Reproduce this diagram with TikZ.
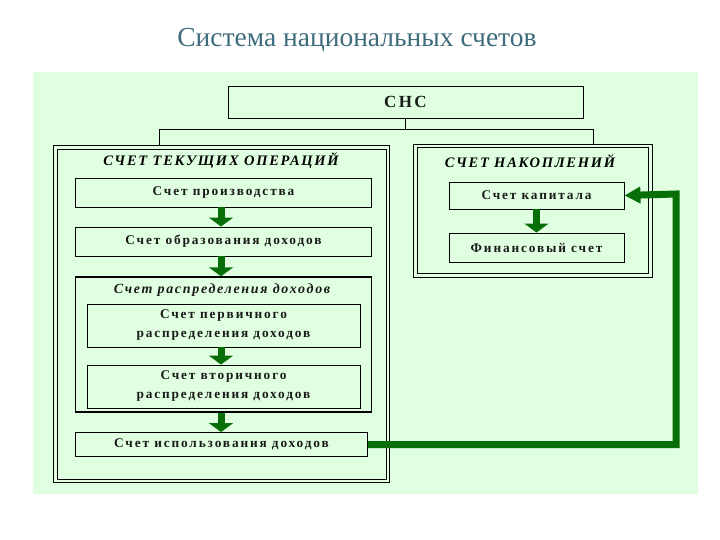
\documentclass[tikz,border=0pt]{standalone}
\usepackage{fontspec}
\setmainfont{Liberation Serif}
\newfontfamily\bxfont[LetterSpace=14]{Liberation Serif}
\newfontfamily\ttlfont[LetterSpace=12]{Liberation Serif}
\usetikzlibrary{arrows.meta}
\definecolor{bgc}{RGB}{224,255,224}
\definecolor{arr}{RGB}{8,110,8}
\definecolor{ttl}{RGB}{62,108,124}
\tikzset{
  acct/.style={draw=black, line width=0.9pt, inner sep=0pt, align=center,
    font=\bxfont\fontsize{13.3}{19}\selectfont\bfseries, text=black!90},
  grp/.style={draw=black, line width=0.8pt, inner sep=0pt},
  grptitle/.style={inner sep=0pt, font=\ttlfont\fontsize{14.5}{16}\selectfont\bfseries\itshape},
  downarr/.style={arr, line width=7pt, -{Triangle[width=24pt,length=9pt]}},
  backarr/.style={arr, line width=7pt, -{Triangle[width=16pt,length=16pt]}},
  thin/.style={draw=black, line width=0.8pt}
}
\begin{document}
\begin{tikzpicture}[x=1pt,y=-1pt]
\useasboundingbox (0,0) rectangle (720,540);
\fill[bgc] (33,72) rectangle (698,494);
\node[text=ttl, font=\fontsize{27.5}{30}\selectfont] (title) at (357,40) {Система национальных счетов};
% СНС
\node[acct, minimum width=355pt, minimum height=32pt, font=\bxfont\fontsize{17}{20}\selectfont\bfseries] (snc) at (405.5,102) {СНС};
% group boxes
\draw[grp] (53,145) rectangle (389,482);
\draw[grp] (57,149) rectangle (386,479);
\coordinate (lgtop) at (159,145);
\draw[grp] (413,144) rectangle (652,277);
\draw[grp] (417,147) rectangle (648,273);
\coordinate (rgtop) at (593,144);
% connectors from СНС
\coordinate (hub) at (405.5,129);
\draw[thin] (snc.south) -- (hub);
\draw[thin] (hub) -| (lgtop);
\draw[thin] (hub) -| (rgtop);
% left group
\node[grptitle] (lt) at (221,161) {СЧЕТ ТЕКУЩИХ ОПЕРАЦИЙ};
\node[acct, minimum width=296pt, minimum height=29pt] (prod) at (223.5,192.5) {Счет производства};
\node[acct, minimum width=296pt, minimum height=29pt] (obr) at (223.5,241.5) {Счет образования доходов};
\node[draw=black, line width=1.4pt, minimum width=296pt, minimum height=135pt, inner sep=0pt] (rasp) at (223.5,344.5) {};
\node[grptitle, font=\ttlfont\fontsize{14}{16}\selectfont\bfseries\itshape, text=black!90] (rt) at (222,290) {Счет распределения доходов};
\node[acct, minimum width=273pt, minimum height=43pt] (perv) at (223.5,325.5) {Счет первичного\\распределения доходов};
\node[acct, minimum width=273pt, minimum height=43pt] (vtor) at (223.5,386.5) {Счет вторичного\\распределения доходов};
\node[acct, minimum width=292pt, minimum height=24pt] (isp) at (221.5,444.5) {Счет использования доходов};
% right group
\node[grptitle] (nt) at (530,161) {СЧЕТ НАКОПЛЕНИЙ};
\node[acct, minimum width=175pt, minimum height=27pt] (kap) at (536.5,195.5) {Счет капитала};
\node[acct, minimum width=175pt, minimum height=29pt] (fin) at (536.5,247.5) {Финансовый счет};
% arrows
\draw[downarr] (prod.south -| 221,0) -- (obr.north -| 221,0);
\draw[downarr] (obr.south -| 221,0) -- (rasp.north -| 221,0);
\draw[downarr] (perv.south -| 221,0) -- (vtor.north -| 221,0);
\draw[downarr] (rasp.south -| 221,0) -- (isp.north -| 221,0);
\draw[downarr] (kap.south) -- (fin.north);
\coordinate (turn) at (676,194);
\draw[backarr] (isp.east) -- (isp.east -| turn) -- (turn) -- (kap.east);
\end{tikzpicture}
\end{document}
